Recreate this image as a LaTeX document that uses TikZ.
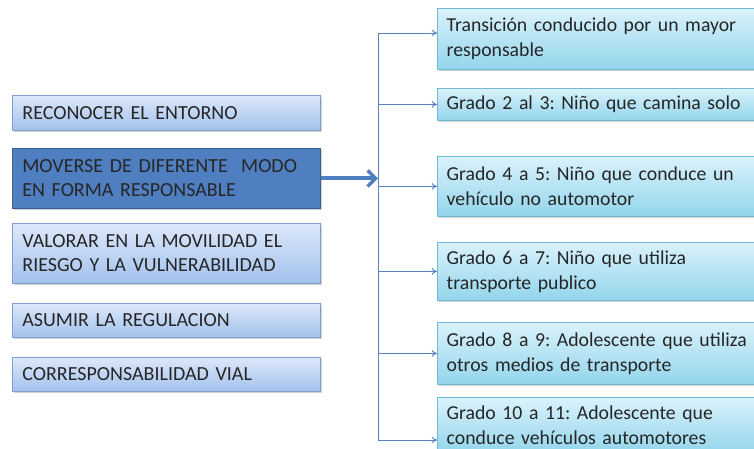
\documentclass[tikz,border=0pt]{standalone}
\usepackage{fontspec}
\setmainfont[WordSpace=0.75]{Carlito}
\usetikzlibrary{arrows.meta,shadows,calc}

\definecolor{leftTop}{HTML}{DCE8FA}
\definecolor{leftBot}{HTML}{A3C1EC}
\definecolor{leftLine}{HTML}{7F9FCF}
\definecolor{darkFill}{HTML}{4F7FC0}
\definecolor{darkLine}{HTML}{3A5F96}
\definecolor{rightTop}{HTML}{DAF2FB}
\definecolor{rightBot}{HTML}{93D5EC}
\definecolor{rightLine}{HTML}{6FB9D3}
\definecolor{linkBlue}{HTML}{5A80C2}
\definecolor{textGray}{HTML}{262626}

\tikzset{every picture/.style={line width=0.75pt}}
\tikzset{
  leftbox/.style={draw=leftLine, line width=0.6pt, top color=leftTop, bottom color=leftBot,
    drop shadow={shadow xshift=1pt, shadow yshift=-1.2pt, opacity=0.35},
    anchor=north west, text width=216pt, minimum width=231pt, align=left,
    inner xsep=7.5pt, inner ysep=0pt, text=textGray, font=\fontsize{15}{18}\selectfont},
  rightbox/.style={draw=rightLine, line width=0.6pt, top color=rightTop, bottom color=rightBot,
    drop shadow={shadow xshift=1pt, shadow yshift=-1.2pt, opacity=0.35},
    anchor=north west, text width=240pt, minimum width=254pt, align=left,
    inner xsep=7pt, inner ysep=0pt, text=textGray, font=\fontsize{14.8}{18.75}\selectfont},
  link/.style={draw=linkBlue, line width=0.7pt, -{To[length=4pt,width=5pt]}},
}

\begin{document}
\frenchspacing
\begin{tikzpicture}[x=0.75pt,y=0.75pt,yscale=-1]
	\useasboundingbox (0,0) rectangle (754,449);
	\fill[white] (0,0) rectangle (754,449);

	%Shape: Rectangle [left column]
	\node[leftbox, minimum height=26.25pt] (reconocer) at (12,95) {RECONOCER EL ENTORNO};
	\node[leftbox, minimum height=45pt, draw=darkLine, top color=darkFill, bottom color=darkFill] (moverse) at (12,148) {MOVERSE DE DIFERENTE \ MODO\\EN FORMA RESPONSABLE};
	\node[leftbox, minimum height=45pt] (valorar) at (12,223) {VALORAR EN LA MOVILIDAD EL\\RIESGO Y LA VULNERABILIDAD};
	\node[leftbox, minimum height=25.5pt] (asumir) at (12,303) {ASUMIR LA REGULACION};
	\node[leftbox, minimum height=25.5pt] (corresp) at (12,357) {CORRESPONSABILIDAD VIAL};

	%Shape: Rectangle [right column]
	\node[rightbox, minimum height=45.75pt] (g1) at (437,8) {Transición conducido por un mayor\\responsable};
	\node[rightbox, minimum height=24pt] (g2) at (437,88) {Grado 2 al 3: Niño que camina solo};
	\node[rightbox, minimum height=45pt] (g3) at (437,156) {Grado 4 a 5: Niño que conduce un\\vehículo no automotor};
	\node[rightbox, minimum height=43.5pt] (g4) at (437,242) {Grado 6 a 7: Niño que utiliza\\transporte publico};
	\node[rightbox, minimum height=46.5pt] (g5) at (437,322) {Grado 8 a 9: Adolescente que utiliza\\otros medios de transporte};
	\node[rightbox, minimum height=42pt] (g6) at (437,397) {Grado 10 a 11: Adolescente que\\conduce vehículos automotores};

	%Straight Lines [spine]
	\coordinate (spineTop) at (378,33);
	\coordinate (spineBot) at (378,440);
	\draw[linkBlue, line width=0.7pt] (spineTop) -- (spineBot);

	%Straight Lines [branches]
	\draw[link] (spineTop) -- (spineTop -| g1.west);
	\draw[link] (spineTop |- g2.west) -- (g2.west);
	\draw[link] (spineTop |- g3.west) -- (g3.west);
	\draw[link] (spineTop |- g4.west) -- (g4.west);
	\draw[link] (spineTop |- g5.west) -- (g5.west);
	\draw[link] (spineBot) -- (spineBot -| g6.west);

	%Straight Lines [main arrow]
	\draw[darkFill, line width=3pt, -{Straight Barb[length=6pt,width=12pt,line width=2.5pt]}] (moverse.east) -- (spineTop |- moverse.east);

\end{tikzpicture}
\end{document}
